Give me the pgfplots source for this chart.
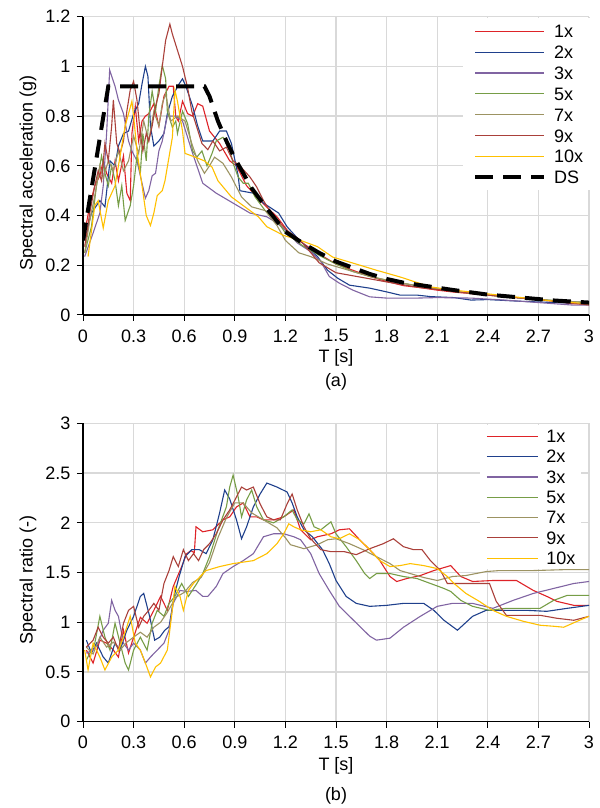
\documentclass[border=0pt]{standalone}
\usepackage{fontspec}
\setmainfont{Liberation Sans}
\usepackage{pgfplots}
\pgfplotsset{compat=1.18}
\newcommand{\fs}{\fontsize{18bp}{21bp}\selectfont}
\definecolor{c1}{RGB}{222,35,40}
\definecolor{c2}{RGB}{31,64,140}
\definecolor{c3}{RGB}{128,100,162}
\definecolor{c5}{RGB}{118,157,70}
\definecolor{c7}{RGB}{156,147,98}
\definecolor{c9}{RGB}{170,64,58}
\definecolor{c10}{RGB}{255,192,0}
\definecolor{gridgray}{RGB}{217,217,217}
\pgfplotsset{
  myaxis/.style={
    scale only axis, width=506bp, height=298.3bp, xmin=0, xmax=3,
    axis x line*=bottom, axis y line*=left,
    axis line style={black, line width=1.2bp, -},
    tick align=outside, major tick length=6bp,
    tick style={black, line width=1bp},
    grid=major, grid style={color=gridgray, line width=1.3bp},
    xtick={0,0.3,0.6,0.9,1.2,1.5,1.8,2.1,2.4,2.7,3},
    /pgf/number format/assume math mode=true,
    tick label style={font=\fs},
    xticklabel style={yshift=-5bp},
    yticklabel style={xshift=-3bp},
    label style={font=\fs},
    title style={font=\fs},
    every axis plot/.append style={line width=1.1bp},
    xlabel={T [s]},
  }
}
\begin{document}
\begin{tikzpicture}
\useasboundingbox (0,0) rectangle (600bp,808bp);
% ---------------- (a)
\begin{axis}[myaxis,
  at={(83bp,493bp)}, anchor=south west,
  ymin=0, ymax=1.2, ytick={0,0.2,0.4,0.6,0.8,1,1.2},
  ylabel={Spectral acceleration (g)},
  ylabel style={at={(axis description cs:-0.1087,0.476)}, anchor=center},
  xlabel style={at={(axis description cs:0.5,-0.144)}, anchor=center},
  title={(a)}, title style={at={(axis description cs:0.5,-0.245)}, anchor=center},
  legend cell align=left,
  legend image code/.code={\draw[#1] (0bp,0bp) -- (69bp,0bp); \path (77bp,0bp);},
  legend style={at={(axis description cs:0.751,0.9956)}, anchor=north west,
    draw=none, fill=white, inner xsep=10bp, inner ysep=2.5bp, font=\fs,
    nodes={inner sep=0pt, text height=16.85bp, text depth=4.05bp}, row sep=0pt},
]
\addplot[c1] coordinates {(0.01,0.33)(0.04,0.44)(0.07,0.52)(0.10,0.56)(0.12,0.62)(0.14,0.57)(0.17,0.53)(0.19,0.62)(0.21,0.54)(0.24,0.64)(0.26,0.49)(0.28,0.46)(0.29,0.73)(0.31,0.84)(0.33,0.70)(0.35,0.78)(0.37,0.80)(0.39,0.81)(0.42,0.85)(0.45,0.76)(0.48,0.88)(0.51,0.92)(0.535,0.92)(0.55,0.80)(0.565,0.78)(0.59,0.86)(0.62,0.81)(0.65,0.80)(0.68,0.85)(0.71,0.84)(0.75,0.74)(0.81,0.69)(0.87,0.62)(0.91,0.60)(0.97,0.52)(1.05,0.46)(1.15,0.395)(1.24,0.315)(1.3,0.29)(1.4,0.245)(1.5,0.205)(1.6,0.18)(1.7,0.155)(1.8,0.135)(1.9,0.118)(2.0,0.11)(2.1,0.10)(2.2,0.092)(2.4,0.08)(2.6,0.068)(2.8,0.055)(2.9,0.045)(3.0,0.045)};
\addlegendentry{1x}
\addplot[c2] coordinates {(0.01,0.30)(0.05,0.41)(0.10,0.46)(0.13,0.435)(0.16,0.62)(0.19,0.60)(0.21,0.68)(0.24,0.73)(0.27,0.74)(0.30,0.81)(0.33,0.85)(0.35,0.93)(0.37,1.0)(0.385,0.96)(0.40,0.76)(0.42,0.68)(0.45,0.70)(0.48,0.73)(0.50,0.81)(0.53,0.88)(0.57,0.93)(0.59,0.95)(0.61,0.92)(0.65,0.84)(0.68,0.76)(0.71,0.70)(0.77,0.70)(0.81,0.74)(0.85,0.74)(0.88,0.69)(0.92,0.56)(0.93,0.50)(1.01,0.49)(1.07,0.45)(1.16,0.41)(1.21,0.355)(1.27,0.31)(1.39,0.235)(1.45,0.18)(1.51,0.148)(1.58,0.12)(1.70,0.108)(1.80,0.093)(1.88,0.08)(1.98,0.08)(2.06,0.074)(2.2,0.07)(2.3,0.06)(2.4,0.062)(2.6,0.055)(2.8,0.05)(3.0,0.045)};
\addlegendentry{2x}
\addplot[c3] coordinates {(0.01,0.235)(0.06,0.33)(0.10,0.41)(0.12,0.52)(0.14,0.73)(0.158,0.985)(0.19,0.92)(0.21,0.865)(0.24,0.81)(0.27,0.70)(0.29,0.66)(0.32,0.62)(0.34,0.56)(0.37,0.47)(0.39,0.50)(0.41,0.56)(0.43,0.57)(0.45,0.66)(0.47,0.70)(0.50,0.80)(0.55,0.80)(0.59,0.78)(0.65,0.65)(0.71,0.53)(0.79,0.49)(0.89,0.45)(0.99,0.41)(1.09,0.395)(1.15,0.37)(1.21,0.335)(1.27,0.29)(1.35,0.255)(1.41,0.215)(1.46,0.155)(1.52,0.128)(1.60,0.10)(1.70,0.073)(1.80,0.068)(1.98,0.068)(2.1,0.07)(2.3,0.068)(2.5,0.06)(2.7,0.05)(2.9,0.04)(3.0,0.04)};
\addlegendentry{3x}
\addplot[c5] coordinates {(0.01,0.25)(0.05,0.355)(0.08,0.52)(0.11,0.64)(0.13,0.57)(0.15,0.52)(0.17,0.60)(0.19,0.54)(0.21,0.44)(0.23,0.52)(0.25,0.38)(0.28,0.44)(0.30,0.52)(0.32,0.64)(0.34,0.57)(0.355,0.73)(0.375,0.62)(0.39,0.80)(0.41,0.90)(0.43,0.82)(0.45,0.92)(0.47,1.005)(0.49,0.95)(0.50,0.82)(0.53,0.755)(0.55,0.78)(0.56,0.73)(0.59,0.82)(0.62,0.77)(0.65,0.66)(0.675,0.635)(0.705,0.66)(0.735,0.60)(0.765,0.65)(0.79,0.70)(0.83,0.715)(0.86,0.69)(0.89,0.61)(0.92,0.555)(0.95,0.53)(0.98,0.53)(1.02,0.475)(1.08,0.42)(1.15,0.38)(1.2,0.33)(1.3,0.28)(1.4,0.24)(1.5,0.205)(1.6,0.175)(1.7,0.155)(1.8,0.14)(2.0,0.115)(2.2,0.095)(2.4,0.08)(2.6,0.068)(2.8,0.058)(3.0,0.05)};
\addlegendentry{5x}
\addplot[c7] coordinates {(0.01,0.25)(0.04,0.38)(0.07,0.48)(0.10,0.60)(0.12,0.55)(0.15,0.62)(0.18,0.58)(0.21,0.66)(0.24,0.58)(0.27,0.62)(0.30,0.72)(0.33,0.65)(0.36,0.78)(0.39,0.70)(0.42,0.82)(0.45,0.76)(0.47,0.85)(0.49,0.89)(0.52,0.78)(0.56,0.80)(0.605,0.78)(0.645,0.69)(0.68,0.62)(0.72,0.57)(0.75,0.60)(0.78,0.635)(0.83,0.61)(0.88,0.555)(0.94,0.475)(1.0,0.435)(1.08,0.42)(1.15,0.36)(1.2,0.30)(1.28,0.25)(1.35,0.235)(1.45,0.205)(1.55,0.185)(1.65,0.165)(1.8,0.14)(2.0,0.115)(2.2,0.095)(2.4,0.08)(2.7,0.062)(3.0,0.05)};
\addlegendentry{7x}
\addplot[c9] coordinates {(0.01,0.275)(0.04,0.41)(0.07,0.52)(0.09,0.58)(0.11,0.54)(0.13,0.69)(0.15,0.62)(0.17,0.76)(0.18,0.865)(0.20,0.69)(0.22,0.65)(0.24,0.70)(0.26,0.82)(0.28,0.905)(0.30,0.94)(0.32,0.865)(0.34,0.73)(0.355,0.66)(0.375,0.73)(0.39,0.70)(0.41,0.76)(0.43,0.84)(0.45,0.89)(0.47,1.0)(0.49,1.105)(0.515,1.17)(0.53,1.13)(0.56,1.065)(0.59,1.0)(0.62,0.915)(0.645,0.82)(0.675,0.755)(0.705,0.69)(0.74,0.665)(0.77,0.70)(0.81,0.66)(0.85,0.675)(0.89,0.62)(0.93,0.60)(0.99,0.555)(1.03,0.515)(1.07,0.46)(1.13,0.395)(1.21,0.34)(1.29,0.30)(1.4,0.21)(1.5,0.17)(1.68,0.148)(1.8,0.133)(2.0,0.11)(2.2,0.095)(2.4,0.08)(2.6,0.068)(2.8,0.055)(3.0,0.04)};
\addlegendentry{9x}
\addplot[c10] coordinates {(0.03,0.235)(0.07,0.44)(0.09,0.46)(0.12,0.35)(0.15,0.46)(0.19,0.52)(0.22,0.64)(0.25,0.76)(0.29,0.86)(0.30,0.80)(0.32,0.66)(0.35,0.52)(0.375,0.40)(0.40,0.36)(0.42,0.41)(0.44,0.48)(0.47,0.50)(0.486,0.54)(0.53,0.715)(0.545,0.905)(0.56,0.86)(0.59,0.74)(0.605,0.65)(0.665,0.635)(0.72,0.62)(0.765,0.595)(0.80,0.54)(0.88,0.475)(0.96,0.435)(1.04,0.395)(1.09,0.355)(1.19,0.32)(1.29,0.30)(1.39,0.275)(1.48,0.233)(1.58,0.213)(1.74,0.18)(1.88,0.153)(2.06,0.113)(2.2,0.1)(2.4,0.085)(2.6,0.07)(2.8,0.055)(3.0,0.045)};
\addlegendentry{10x}
\addplot[black, line width=4bp, dash pattern=on 18bp off 10bp] coordinates {(0,0.30)(0.15,0.92)(0.72,0.92)(0.75,0.88)(0.80,0.78)(0.85,0.70)(0.90,0.63)(0.95,0.57)(1.0,0.51)(1.1,0.42)(1.2,0.335)(1.3,0.29)(1.4,0.25)(1.5,0.215)(1.6,0.19)(1.7,0.165)(1.8,0.145)(1.9,0.13)(2.0,0.12)(2.1,0.11)(2.2,0.10)(2.4,0.082)(2.6,0.07)(2.8,0.058)(3.0,0.05)};
\addlegendentry{DS}
\end{axis}
% ---------------- (b)
\begin{axis}[myaxis,
  at={(83bp,86.3bp)}, anchor=south west,
  ymin=0, ymax=3, ytick={0,0.5,1,1.5,2,2.5,3},
  ylabel={Spectral ratio (-)},
  ylabel style={at={(axis description cs:-0.1087,0.475)}, anchor=center},
  xlabel style={at={(axis description cs:0.5,-0.148)}, anchor=center},
  title={(b)}, title style={at={(axis description cs:0.5,-0.267)}, anchor=center},
  legend cell align=left,
  legend image code/.code={\draw[#1] (0bp,0bp) -- (51bp,0bp); \path (59bp,0bp);},
  legend style={at={(axis description cs:0.7846,0.9943)}, anchor=north west,
    draw=none, fill=white, inner xsep=6bp, inner ysep=1bp, font=\fs,
    nodes={inner sep=0pt, text height=16.35bp, text depth=3.95bp}, row sep=0pt},
]
\addplot[c1] coordinates {(0.02,0.72)(0.06,0.59)(0.10,0.82)(0.14,0.79)(0.18,0.72)(0.21,0.65)(0.24,0.92)(0.27,0.69)(0.30,0.85)(0.34,1.05)(0.38,0.99)(0.42,1.12)(0.46,1.26)(0.50,1.12)(0.535,1.36)(0.585,1.56)(0.615,1.69)(0.64,1.72)(0.66,1.70)(0.67,1.96)(0.71,1.91)(0.77,1.93)(0.83,2.03)(0.87,2.06)(0.91,2.16)(0.95,2.20)(0.99,2.06)(1.03,2.06)(1.07,2.03)(1.13,2.03)(1.19,2.06)(1.25,2.13)(1.29,1.93)(1.35,1.83)(1.39,1.86)(1.47,1.89)(1.52,1.93)(1.58,1.94)(1.64,1.83)(1.70,1.73)(1.76,1.62)(1.82,1.46)(1.86,1.41)(1.92,1.44)(2.0,1.47)(2.08,1.52)(2.18,1.57)(2.24,1.46)(2.31,1.41)(2.43,1.42)(2.57,1.42)(2.67,1.32)(2.75,1.26)(2.81,1.21)(2.91,1.17)(3.0,1.17)};
\addlegendentry{1x}
\addplot[c2] coordinates {(0.02,0.82)(0.05,0.69)(0.08,0.79)(0.12,0.65)(0.15,0.59)(0.19,0.79)(0.22,0.72)(0.26,0.92)(0.30,1.06)(0.34,1.26)(0.36,1.29)(0.395,1.06)(0.425,0.82)(0.455,0.85)(0.485,0.92)(0.51,0.955)(0.54,1.26)(0.57,1.46)(0.605,1.66)(0.645,1.73)(0.69,1.73)(0.73,1.69)(0.77,1.83)(0.81,2.10)(0.84,2.33)(0.87,2.24)(0.91,2.03)(0.94,1.84)(0.97,1.96)(1.01,2.16)(1.05,2.29)(1.09,2.40)(1.15,2.36)(1.21,2.31)(1.24,2.20)(1.27,2.06)(1.31,1.93)(1.36,1.86)(1.42,1.73)(1.46,1.59)(1.50,1.42)(1.56,1.26)(1.62,1.19)(1.70,1.16)(1.80,1.17)(1.90,1.19)(2.02,1.19)(2.08,1.12)(2.14,1.02)(2.22,0.92)(2.31,1.06)(2.39,1.12)(2.51,1.12)(2.63,1.12)(2.75,1.11)(2.87,1.14)(3.0,1.17)};
\addlegendentry{2x}
\addplot[c3] coordinates {(0.02,0.69)(0.06,0.72)(0.09,0.79)(0.12,0.92)(0.15,0.99)(0.17,1.22)(0.19,1.12)(0.21,1.06)(0.24,0.79)(0.27,0.72)(0.30,0.79)(0.34,0.72)(0.37,0.59)(0.40,0.65)(0.44,0.72)(0.48,0.79)(0.51,0.92)(0.535,1.19)(0.575,1.32)(0.615,1.31)(0.67,1.32)(0.71,1.26)(0.74,1.26)(0.79,1.36)(0.83,1.49)(0.89,1.56)(0.95,1.62)(1.01,1.69)(1.07,1.86)(1.13,1.89)(1.19,1.89)(1.25,1.86)(1.29,1.83)(1.35,1.69)(1.40,1.49)(1.46,1.32)(1.52,1.16)(1.58,1.06)(1.64,0.96)(1.70,0.86)(1.74,0.82)(1.82,0.84)(1.90,0.95)(2.0,1.06)(2.10,1.16)(2.19,1.19)(2.31,1.19)(2.43,1.14)(2.55,1.22)(2.67,1.29)(2.79,1.34)(2.91,1.39)(3.0,1.41)};
\addlegendentry{3x}
\addplot[c5] coordinates {(0.02,0.62)(0.07,0.79)(0.10,1.06)(0.13,0.85)(0.16,0.72)(0.19,0.99)(0.22,0.79)(0.25,0.59)(0.27,0.52)(0.30,0.72)(0.34,0.85)(0.38,0.72)(0.41,0.99)(0.44,1.12)(0.48,1.06)(0.51,1.19)(0.545,1.26)(0.585,1.39)(0.625,1.26)(0.675,1.39)(0.71,1.49)(0.75,1.66)(0.80,1.93)(0.85,2.16)(0.87,2.36)(0.89,2.48)(0.92,2.26)(0.94,2.06)(0.97,2.23)(1.0,2.33)(1.03,2.16)(1.07,2.03)(1.13,2.0)(1.19,2.06)(1.24,2.13)(1.27,2.03)(1.31,1.99)(1.34,2.09)(1.37,1.96)(1.41,1.93)(1.47,2.01)(1.50,1.89)(1.56,1.76)(1.62,1.62)(1.67,1.49)(1.70,1.44)(1.74,1.49)(1.82,1.49)(1.90,1.46)(1.98,1.44)(2.06,1.39)(2.14,1.34)(2.18,1.31)(2.24,1.22)(2.31,1.16)(2.41,1.12)(2.51,1.14)(2.61,1.14)(2.71,1.14)(2.79,1.22)(2.87,1.27)(3.0,1.27)};
\addlegendentry{5x}
\addplot[c7] coordinates {(0.02,0.75)(0.06,0.68)(0.10,0.85)(0.14,0.75)(0.18,0.80)(0.22,0.72)(0.26,0.80)(0.30,0.85)(0.34,0.90)(0.38,0.85)(0.42,0.95)(0.46,1.0)(0.50,1.10)(0.55,1.25)(0.60,1.30)(0.65,1.40)(0.70,1.45)(0.75,1.60)(0.80,1.85)(0.85,2.05)(0.90,2.20)(0.95,2.20)(1.0,2.10)(1.05,2.05)(1.1,2.0)(1.15,1.95)(1.2,1.85)(1.23,1.78)(1.31,1.74)(1.39,1.78)(1.45,1.83)(1.50,1.84)(1.58,1.79)(1.66,1.73)(1.74,1.66)(1.82,1.59)(1.88,1.52)(1.94,1.49)(2.02,1.45)(2.10,1.42)(2.19,1.46)(2.27,1.47)(2.39,1.51)(2.47,1.52)(2.67,1.52)(2.87,1.53)(3.0,1.53)};
\addlegendentry{7x}
\addplot[c9] coordinates {(0.02,0.75)(0.06,0.82)(0.09,0.95)(0.12,0.85)(0.15,0.79)(0.18,0.85)(0.21,0.72)(0.24,0.99)(0.27,1.12)(0.30,1.16)(0.33,0.95)(0.36,1.06)(0.39,1.12)(0.42,1.19)(0.45,1.12)(0.48,1.39)(0.51,1.52)(0.535,1.66)(0.565,1.56)(0.595,1.73)(0.625,1.62)(0.655,1.69)(0.685,1.62)(0.715,1.73)(0.75,1.79)(0.79,1.89)(0.83,2.03)(0.87,2.13)(0.91,2.26)(0.94,2.36)(0.97,2.33)(1.01,2.36)(1.05,2.19)(1.09,2.06)(1.13,2.03)(1.17,2.03)(1.21,2.19)(1.24,2.29)(1.27,2.13)(1.31,1.96)(1.35,1.84)(1.41,1.73)(1.47,1.71)(1.55,1.71)(1.62,1.68)(1.70,1.74)(1.78,1.79)(1.84,1.84)(1.90,1.76)(1.96,1.73)(2.01,1.73)(2.06,1.62)(2.12,1.52)(2.16,1.39)(2.30,1.39)(2.41,1.39)(2.45,1.21)(2.51,1.07)(2.61,1.07)(2.71,1.07)(2.81,1.04)(2.91,1.02)(3.0,1.06)};
\addlegendentry{9x}
\addplot[c10] coordinates {(0.01,0.72)(0.03,0.52)(0.06,0.79)(0.10,0.65)(0.13,0.52)(0.17,0.65)(0.21,0.72)(0.24,0.85)(0.28,1.06)(0.31,0.79)(0.34,0.72)(0.37,0.59)(0.40,0.45)(0.43,0.55)(0.46,0.59)(0.50,0.72)(0.525,1.06)(0.545,1.36)(0.575,1.26)(0.595,1.12)(0.625,1.32)(0.655,1.39)(0.695,1.46)(0.73,1.52)(0.81,1.56)(0.89,1.59)(1.01,1.62)(1.09,1.69)(1.15,1.79)(1.19,1.89)(1.22,1.99)(1.25,1.96)(1.29,1.93)(1.35,1.91)(1.41,1.93)(1.47,1.86)(1.52,1.84)(1.58,1.89)(1.64,1.83)(1.70,1.73)(1.76,1.62)(1.82,1.56)(1.88,1.57)(1.94,1.59)(2.02,1.57)(2.10,1.54)(2.16,1.46)(2.20,1.39)(2.27,1.29)(2.35,1.21)(2.43,1.12)(2.51,1.06)(2.61,1.01)(2.71,0.97)(2.79,0.96)(2.85,0.95)(2.93,1.01)(3.0,1.06)};
\addlegendentry{10x}
\end{axis}
\end{tikzpicture}
\end{document}
